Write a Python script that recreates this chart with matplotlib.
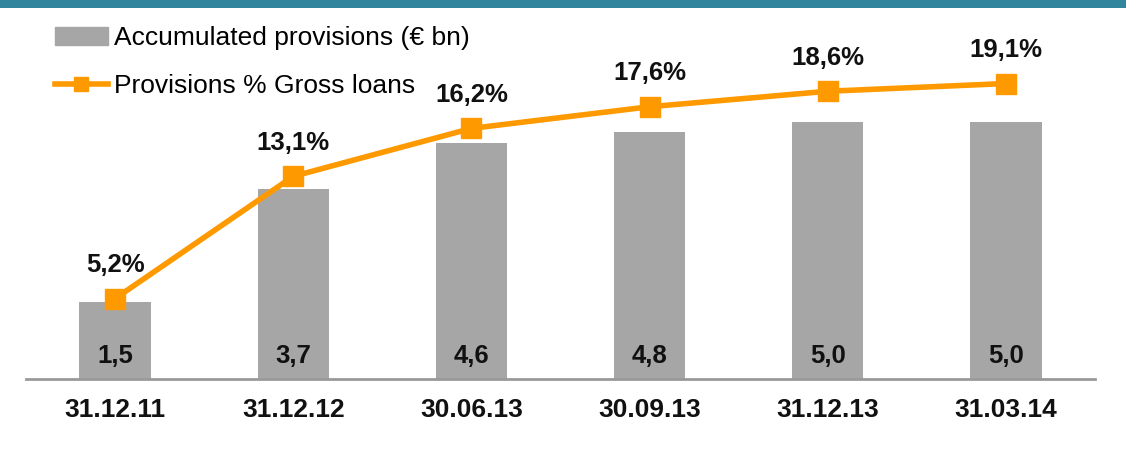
import matplotlib.pyplot as plt
from matplotlib.patches import Rectangle
from matplotlib.lines import Line2D

plt.rcParams['font.family'] = ['Liberation Sans', 'DejaVu Sans']

dates = ['31.12.11', '31.12.12', '30.06.13', '30.09.13', '31.12.13', '31.03.14']
provisions = [1.5, 3.7, 4.6, 4.8, 5.0, 5.0]
provisions_labels = ['1,5', '3,7', '4,6', '4,8', '5,0', '5,0']
pct_gross = [5.2, 13.1, 16.2, 17.6, 18.6, 19.1]
pct_labels = ['5,2%', '13,1%', '16,2%', '17,6%', '18,6%', '19,1%']

grey = '#a6a6a6'
orange = '#ff9900'
teal = '#31869e'

fig = plt.figure(figsize=(11.26, 4.74), dpi=100)
W, H = 1126, 474
pos = [26 / W, (H - 379) / H, (1095 - 26) / W, (379 - 8) / H]
ax = fig.add_axes(pos)
ax2 = ax.twinx()

# teal band at the top
fig.add_artist(Rectangle((0, 1 - 8 / H), 1, 8 / H, transform=fig.transFigure,
                         color=teal, lw=0))

x = list(range(len(dates)))
ax.bar(x, provisions, width=0.4, color=grey, zorder=1)
for xi, lab in zip(x, provisions_labels):
    ax.text(xi, 0.44, lab, ha='center', va='center', fontsize=18.5,
            fontweight='bold', color='#111111')

ax2.plot(x, pct_gross, color=orange, lw=4, marker='s', markersize=14,
         zorder=3)
for xi, v, lab in zip(x, pct_gross, pct_labels):
    ax2.annotate(lab, (xi, v), xytext=(0, 24), textcoords='offset points',
                 ha='center', va='center', fontsize=18.5, fontweight='bold',
                 color='#111111')

ax.set_xlim(-0.5, 5.5)
ax.set_ylim(0, 371 / 51.4)
ax2.set_ylim(0, 371 / 15.47)

for a in (ax, ax2):
    for s in ['top', 'right', 'left']:
        a.spines[s].set_visible(False)
    a.set_yticks([])
ax2.spines['bottom'].set_visible(False)
ax.spines['bottom'].set_color('#999999')
ax.spines['bottom'].set_linewidth(2)

ax.set_xticks(x)
ax.set_xticklabels(dates, fontsize=19, fontweight='bold', color='#111111')
ax.tick_params(axis='x', length=0, pad=14)

handles = [Rectangle((0, 0), 1, 1, color=grey),
           Line2D([], [], color=orange, lw=4, marker='s', markersize=10)]
fig.legend(handles, ['Accumulated provisions (€ bn)', 'Provisions % Gross loans'],
           loc='upper left', bbox_to_anchor=(55 / W, 1 - 26 / H),
           frameon=False, fontsize=19, handlelength=2.0, handletextpad=0.25,
           labelspacing=0.9, borderaxespad=0, borderpad=0)

fig.savefig('out.png', dpi=100)
